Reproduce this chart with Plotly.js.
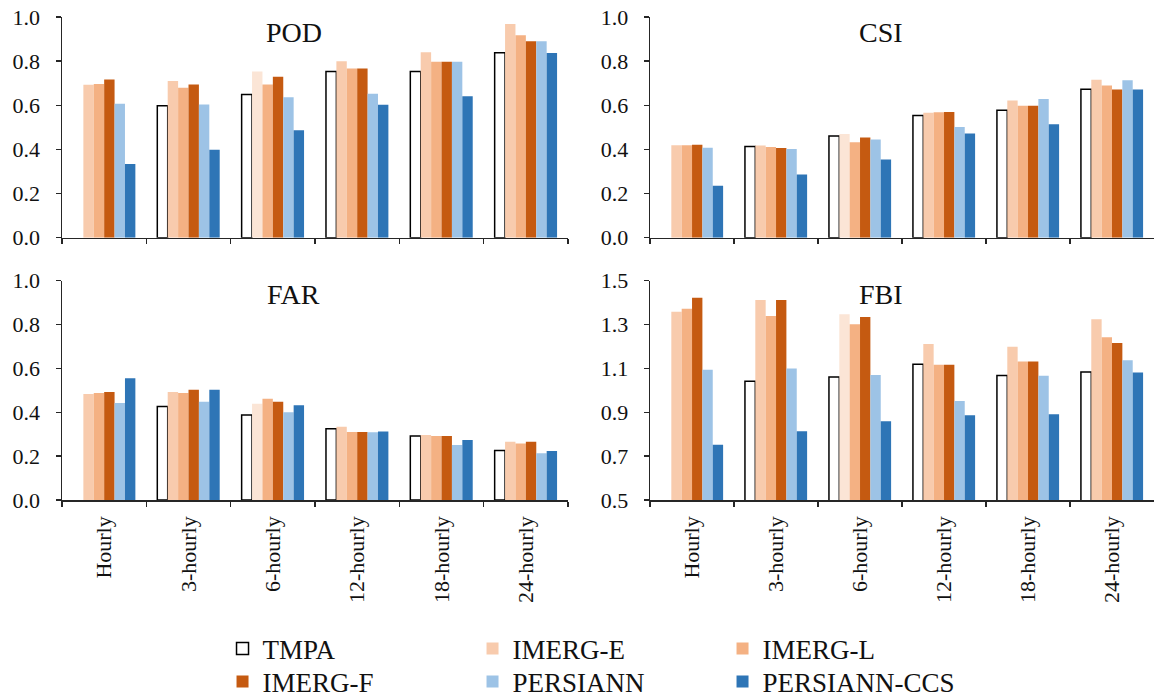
<!DOCTYPE html>
<html>
<head>
<meta charset="utf-8">
<script src="https://cdn.plot.ly/plotly-3.0.1.min.js"></script>
<style>html,body{margin:0;padding:0;background:#fff;}#chart{width:1154px;height:700px;}</style>
</head>
<body>
<div id="chart"></div>
<script>
// ---------- data ----------
const categories = ['Hourly', '3-hourly', '6-hourly', '12-hourly', '18-hourly', '24-hourly'];
const seriesNames = ['TMPA', 'IMERG-E', 'IMERG-L', 'IMERG-F', 'PERSIANN', 'PERSIANN-CCS'];
const panelTitles = ['POD', 'CSI', 'FAR', 'FBI'];

// rows follow seriesNames order
const podValues = [
  [null, 0.598, 0.649, 0.753, 0.753, 0.838],
  [0.693, 0.710, 0.753, 0.800, 0.840, 0.968],
  [0.697, 0.679, 0.694, 0.767, 0.797, 0.917],
  [0.717, 0.694, 0.729, 0.767, 0.797, 0.890],
  [0.607, 0.604, 0.637, 0.652, 0.797, 0.890],
  [0.334, 0.399, 0.487, 0.602, 0.641, 0.837]
];
const csiValues = [
  [null, 0.413, 0.461, 0.554, 0.578, 0.673],
  [0.419, 0.418, 0.470, 0.566, 0.622, 0.716],
  [0.419, 0.411, 0.433, 0.569, 0.598, 0.690],
  [0.421, 0.407, 0.454, 0.570, 0.598, 0.672],
  [0.408, 0.402, 0.445, 0.502, 0.628, 0.713],
  [0.236, 0.286, 0.354, 0.472, 0.514, 0.672]
];
const farValues = [
  [null, 0.426, 0.388, 0.325, 0.292, 0.226],
  [0.483, 0.492, 0.439, 0.334, 0.296, 0.266],
  [0.488, 0.488, 0.462, 0.310, 0.292, 0.258],
  [0.492, 0.503, 0.448, 0.310, 0.292, 0.266],
  [0.442, 0.448, 0.400, 0.309, 0.251, 0.213],
  [0.555, 0.503, 0.432, 0.312, 0.274, 0.223]
];
const fbiValues = [
  [null, 1.041, 1.061, 1.119, 1.068, 1.084],
  [1.359, 1.412, 1.347, 1.211, 1.199, 1.324],
  [1.372, 1.339, 1.301, 1.117, 1.132, 1.242],
  [1.422, 1.412, 1.334, 1.117, 1.132, 1.216],
  [1.094, 1.100, 1.070, 0.951, 1.067, 1.137],
  [0.752, 0.813, 0.859, 0.886, 0.891, 1.081]
];

// ---------- styles ----------
const seriesColors = ['#ffffff', '#F8CBAD', '#F4B183', '#C55A11', '#9DC3E6', '#2E75B6'];
const imergE6hColor = '#FBE5D6';
const FONT = "'Liberation Serif', 'Times New Roman', serif";
const AXC = '#262626';

const panels = [
  {vals: podValues, xa: 'x',  ya: 'y'},
  {vals: csiValues, xa: 'x2', ya: 'y2'},
  {vals: farValues, xa: 'x3', ya: 'y3'},
  {vals: fbiValues, xa: 'x4', ya: 'y4'}
];

const traces = [];
panels.forEach((p, pi) => {
  seriesNames.forEach((name, si) => {
    let color = seriesColors[si];
    if (si === 1) color = categories.map((c, ci) => ci === 2 ? imergE6hColor : seriesColors[1]);
    traces.push({
      type: 'bar',
      name: name,
      x: categories,
      y: p.vals[si],
      xaxis: p.xa,
      yaxis: p.ya,
      legendgroup: name,
      legend: si < 3 ? 'legend' : 'legend2',
      showlegend: pi === 0,
      marker: {
        color: color,
        line: si === 0 ? {color: '#000000', width: 1.5} : {width: 0}
      },
      hoverinfo: 'x+y+name'
    });
  });
});

function xAxis(domain, anchor, labels) {
  return {
    domain: domain, anchor: anchor, type: 'category',
    categoryorder: 'array', categoryarray: categories,
    range: [-0.5, 5.5],
    showline: true, linecolor: AXC, linewidth: 1.5,
    ticks: 'outside', ticklen: 5, tickwidth: 1.5, tickcolor: AXC,
    tickson: 'boundaries',
    showticklabels: labels, tickangle: -90, ticklabelstandoff: 6,
    tickfont: {family: FONT, size: 22, color: '#111'},
    showgrid: false, zeroline: false, fixedrange: true, automargin: false
  };
}
function yAxis(domain, anchor, range, tick0) {
  return {
    domain: domain, anchor: anchor, range: range,
    tick0: tick0, dtick: 0.2, tickformat: '.1f',
    showline: true, linecolor: AXC, linewidth: 1.5,
    ticks: 'outside', ticklen: 5, tickwidth: 1.5, tickcolor: AXC,
    ticklabelstandoff: 11,
    tickfont: {family: FONT, size: 22, color: '#111'},
    showgrid: false, zeroline: false, fixedrange: true, automargin: false
  };
}

const dxL = [0, 0.4634], dxR = [0.5385, 1];
const dyT = [0.543, 1], dyB = [0, 0.454];

const titleAnn = (text, xref, yref, y) => ({
  text: text, xref: xref, yref: yref, x: 0.458, y: y,
  xanchor: 'center', yanchor: 'middle', showarrow: false,
  font: {family: FONT, size: 28, color: '#111'}
});

const legendCommon = {
  orientation: 'h', entrywidth: 205, entrywidthmode: 'pixels',
  xref: 'paper', yref: 'paper', xanchor: 'left', yanchor: 'middle',
  font: {family: FONT, size: 27, color: '#111'},
  bgcolor: 'rgba(0,0,0,0)', borderwidth: 0, tracegroupgap: 0
};

const layout = {
  width: 1154, height: 700,
  margin: {l: 62, r: 0, t: 17, b: 200, autoexpand: false},
  paper_bgcolor: '#ffffff', plot_bgcolor: '#ffffff',
  barmode: 'group', bargap: 0.26, bargroupgap: 0,
  font: {family: FONT, color: '#111'},
  xaxis: xAxis(dxL, 'y', false),
  xaxis2: xAxis(dxR, 'y2', false),
  xaxis3: xAxis(dxL, 'y3', true),
  xaxis4: xAxis(dxR, 'y4', true),
  yaxis: yAxis(dyT, 'x', [0, 1], 0),
  yaxis2: yAxis(dyT, 'x2', [0, 1], 0),
  yaxis3: yAxis(dyB, 'x3', [0, 1], 0),
  yaxis4: yAxis(dyB, 'x4', [0.5, 1.5], 0.5),
  annotations: [
    titleAnn(panelTitles[0], 'x domain', 'y domain', 0.929),
    titleAnn(panelTitles[1], 'x2 domain', 'y2 domain', 0.929),
    titleAnn(panelTitles[2], 'x3 domain', 'y3 domain', 0.939),
    titleAnn(panelTitles[3], 'x4 domain', 'y4 domain', 0.939)
  ],
  legend: Object.assign({}, legendCommon, {x: 0.147, y: -0.3085}),
  legend2: Object.assign({}, legendCommon, {x: 0.147, y: -0.3767}),
  showlegend: true
};

Plotly.newPlot('chart', traces, layout, {displayModeBar: false, staticPlot: true});
</script>
</body>
</html>
